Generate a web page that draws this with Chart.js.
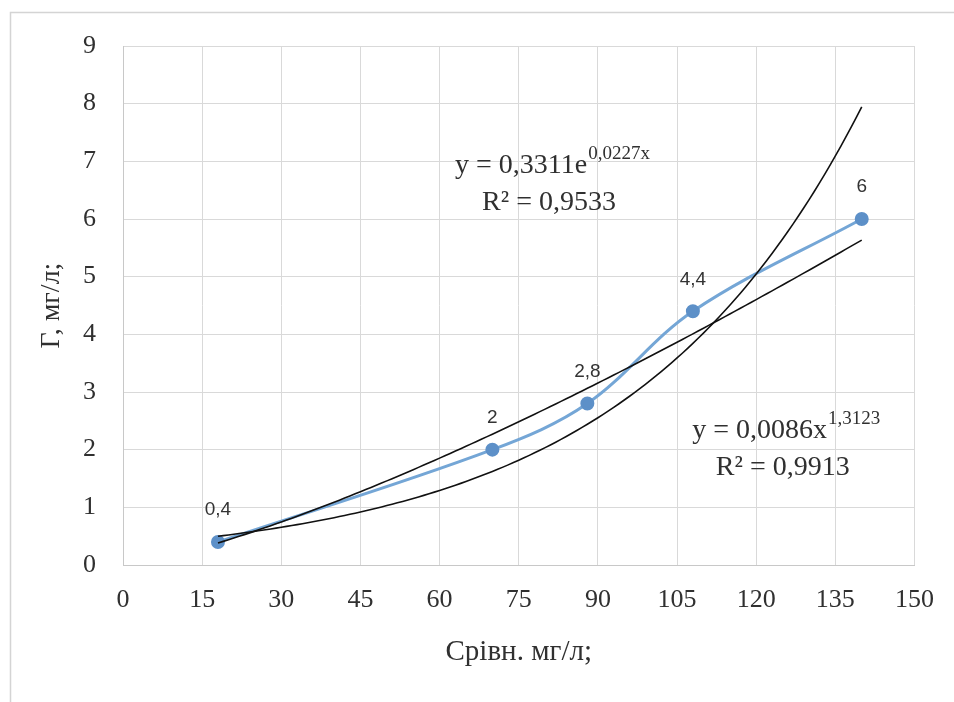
<!DOCTYPE html>
<html>
<head>
<meta charset="utf-8">
<script src="https://cdn.jsdelivr.net/npm/chart.js@4.4.1/dist/chart.umd.min.js"></script>
<style>
    html, body { margin: 0; padding: 0; background: #fff; }
    #wrap { width: 954px; height: 702px; position: relative; }
</style>
</head>
<body>
<div id="wrap"><canvas id="c1" width="954" height="702"></canvas></div>
<script>
/* ── Measured points ───────────────────────────────────── */
const xLevels = [18, 70, 88, 108, 140];
const gValues = [0.4, 2, 2.8, 4.4, 6];

/* ── Axis ticks ────────────────────────────────────────── */
const xTicks = [0, 15, 30, 45, 60, 75, 90, 105, 120, 135, 150];
const yTicks = [0, 1, 2, 3, 4, 5, 6, 7, 8, 9];

/* ── Trendlines: y = a·e^(bx) and y = a·x^b ─────────────── */
const expCoef    = [0.3311, 0.0227];
const powCoef    = [0.0086, 1.3123];
const trendRange = [18, 140];

const expText = ['y = 0,3311e', '0,0227x', 'R² = 0,9533'];
const powText = ['y = 0,0086x', '1,3123', 'R² = 0,9913'];
const expAt   = [81.3, 6.8];   // label anchor in data units
const powAt   = [125.6, 2.2];

const SERIF = '"Liberation Serif", "Times New Roman", serif';
const SANS  = '"Liberation Sans", Arial, sans-serif';

function trend(fn) {
    const pts = [];
    for (let x = trendRange[0]; x <= trendRange[1]; x += 1) pts.push({ x: x, y: fn(x) });
    return pts;
}

const expPts = trend(x => expCoef[0] * Math.exp(expCoef[1] * x));
const powPts = trend(x => powCoef[0] * Math.pow(x, powCoef[1]));
const points = xLevels.map((x, i) => ({ x: x, y: gValues[i] }));

/* ── Value labels above the points ─────────────────────── */
const pointLabels = {
    id: 'pointLabels',
    afterDatasetsDraw(chart) {
        const ctx  = chart.ctx;
        const meta = chart.getDatasetMeta(2);
        ctx.save();
        ctx.font = '19px ' + SANS;
        ctx.fillStyle = '#333';
        ctx.textAlign = 'center';
        ctx.textBaseline = 'middle';
        meta.data.forEach((el, i) => {
            ctx.fillText(String(gValues[i]).replace('.', ','), el.x, el.y - 32);
        });
        ctx.restore();
    },
};

/* ── Trendline equations ───────────────────────────────── */
function drawEquation(ctx, sx, sy, text, at) {
    const cx = sx.getPixelForValue(at[0]);
    const by = sy.getPixelForValue(at[1]);
    ctx.font = '28px ' + SERIF;
    const wMain = ctx.measureText(text[0]).width;
    ctx.font = '19px ' + SERIF;
    const wSup = ctx.measureText(text[1]).width;
    const x0 = cx - (wMain + wSup) / 2;

    ctx.textAlign = 'left';
    ctx.textBaseline = 'alphabetic';
    ctx.font = '28px ' + SERIF;
    ctx.fillText(text[0], x0, by);
    ctx.font = '19px ' + SERIF;
    ctx.fillText(text[1], x0 + wMain + 1, by - 14);

    ctx.font = '28px ' + SERIF;
    ctx.textAlign = 'center';
    ctx.fillText(text[2], cx - 3, by + 37);
}

const equations = {
    id: 'equations',
    afterDatasetsDraw(chart) {
        const ctx = chart.ctx;
        ctx.save();
        ctx.fillStyle = '#303030';
        drawEquation(ctx, chart.scales.x, chart.scales.y, expText, expAt);
        drawEquation(ctx, chart.scales.x, chart.scales.y, powText, powAt);
        ctx.restore();
    },
};

/* ── Outer frame of the figure ─────────────────────────── */
const frame = {
    id: 'frame',
    beforeDraw(chart) {
        const ctx = chart.ctx;
        ctx.save();
        ctx.fillStyle = '#fff';
        ctx.fillRect(0, 0, chart.width, chart.height);
        ctx.strokeStyle = '#d4d4d4';
        ctx.lineWidth = 1.5;
        ctx.beginPath();
        ctx.moveTo(10.5, chart.height);
        ctx.lineTo(10.5, 12.5);
        ctx.lineTo(chart.width, 12.5);
        ctx.stroke();
        ctx.restore();
    },
};

const GRID = { color: '#d9d9d9', lineWidth: 1, drawTicks: false };

new Chart(document.getElementById('c1'), {
    type    : 'scatter',
    data    : {
        datasets : [
            {
                label       : 'exp',
                data        : expPts,
                showLine    : true,
                borderColor : '#111',
                borderWidth : 1.6,
                pointRadius : 0,
                order       : 0,
            },
            {
                label       : 'power',
                data        : powPts,
                showLine    : true,
                borderColor : '#111',
                borderWidth : 1.6,
                pointRadius : 0,
                order       : 0,
            },
            {
                label               : 'Г',
                data                : points,
                showLine            : true,
                tension             : 0.35,
                borderColor         : '#74a6d6',
                borderWidth         : 3,
                pointRadius         : 5.5,
                pointBackgroundColor: '#5d90c8',
                pointBorderColor    : '#5d90c8',
                order               : 1,
            },
        ],
    },
    options : {
        responsive : false,
        animation  : false,
        layout     : { padding: { top: 46, right: 38, left: 0, bottom: 0 } },
        plugins    : {
            legend  : { display: false },
            tooltip : { enabled: false },
        },
        scales : {
            x : {
                type   : 'linear',
                min    : 0,
                max    : 150,
                grid   : GRID,
                border : { color: '#c8c8c8' },
                afterBuildTicks : s => { s.ticks = xTicks.map(v => ({ value: v })); },
                afterFit        : s => { s.height = 137; },
                ticks  : {
                    color   : '#303030',
                    padding : 20,
                    font    : { family: SERIF, size: 26 },
                },
                title  : {
                    display : true,
                    text    : 'Срівн. мг/л;',
                    color   : '#303030',
                    font    : { family: SERIF, size: 29 },
                    padding : { top: 0, bottom: 32 },
                },
            },
            y : {
                type   : 'linear',
                min    : 0,
                max    : 9,
                grid   : GRID,
                border : { color: '#c8c8c8' },
                afterBuildTicks : s => { s.ticks = yTicks.map(v => ({ value: v })); },
                afterFit        : s => { s.width = 123; },
                ticks  : {
                    color   : '#303030',
                    padding : 27,
                    font    : { family: SERIF, size: 26 },
                },
                title  : {
                    display : true,
                    text    : 'Г, мг/л;',
                    color   : '#303030',
                    font    : { family: SERIF, size: 28 },
                    padding : { top: 35, bottom: 0 },
                },
            },
        },
    },
    plugins : [frame, pointLabels, equations],
});
</script>
</body>
</html>
